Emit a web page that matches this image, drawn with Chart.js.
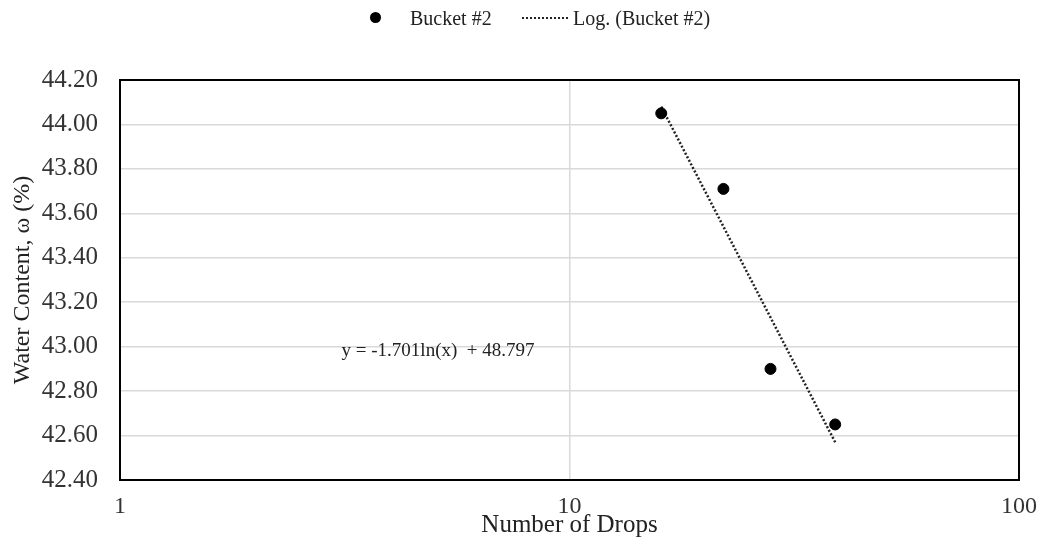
<!DOCTYPE html>
<html>
<head>
<meta charset="utf-8">
<script src="https://cdn.jsdelivr.net/npm/chart.js@4.4.1/dist/chart.umd.min.js"></script>
<style>
    body { margin:0; background:#fff; }
    #wrap { position:relative; width:1042px; height:546px; }
    .leg { position:absolute; top:6px; font-family:"Liberation Serif", serif; font-size:20px; color:#222; line-height:24px; }
    .dot { position:absolute; top:12px; left:370px; width:11px; height:11px; border-radius:50%; background:#000; }
    .dash { position:absolute; top:17px; left:522px; width:46px; border-top:2px dotted #222; }
</style>
</head>
<body>
<div id="wrap">
    <canvas id="grafica" width="1042" height="546"></canvas>
    <span class="dot"></span><span class="leg" style="left:410px">Bucket #2</span>
    <span class="dash"></span><span class="leg" style="left:573px">Log. (Bucket #2)</span>
</div>
<script>
// datos
var gotas = [16, 22, 28, 39];
var humedad = [44.05, 43.71, 42.90, 42.65];
// extremos de la linea de tendencia log
var tendenciaX = [16, 39];
var tendenciaY = [44.08, 42.57];
var ticksX = [1, 10, 100];
var ecuacion = 'y = -1.701ln(x)  + 48.797';
var ecuacionPos = [5.1, 42.98];

var fuente = '"Liberation Serif", "Times New Roman", serif';

var puntos = gotas.map(function (g, i) { return {x: g, y: humedad[i]}; });
var linea = tendenciaX.map(function (g, i) { return {x: g, y: tendenciaY[i]}; });

var marco = {
    id: 'marco',
    afterDraw: function (chart) {
        var ctx = chart.ctx, a = chart.chartArea;
        ctx.save();
        ctx.strokeStyle = '#000';
        ctx.lineWidth = 2;
        ctx.strokeRect(a.left, a.top, a.right - a.left, a.bottom - a.top);
        // texto de la ecuacion
        var sx = chart.scales.x, sy = chart.scales.y;
        ctx.font = '19px ' + fuente;
        ctx.fillStyle = '#222';
        ctx.textAlign = 'center';
        ctx.textBaseline = 'middle';
        ctx.fillText(ecuacion, sx.getPixelForValue(ecuacionPos[0]), sy.getPixelForValue(ecuacionPos[1]));
        ctx.restore();
    }
};

var canvas = document.getElementById('grafica').getContext('2d');
var char = new Chart(canvas, {
    type: 'scatter',
    data: {
        datasets: [{
            label: 'Bucket #2',
            data: puntos,
            backgroundColor: '#000',
            borderColor: '#000',
            pointRadius: 5.5,
            pointHoverRadius: 5.5
        }, {
            label: 'Log. (Bucket #2)',
            data: linea,
            showLine: true,
            borderColor: '#222',
            borderWidth: 2.5,
            borderDash: [2, 2],
            pointRadius: 0,
            fill: false
        }]
    },
    options: {
        responsive: false,
        animation: false,
        devicePixelRatio: 1,
        layout: { padding: { top: 80, right: 23, left: 0, bottom: 0 } },
        plugins: { legend: { display: false }, tooltip: { enabled: false } },
        scales: {
            x: {
                type: 'logarithmic',
                min: 1,
                max: 100,
                afterBuildTicks: function (s) {
                    s.ticks = ticksX.map(function (v) { return {value: v}; });
                },
                afterFit: function (s) {
                    s.height = 66;
                    s.paddingLeft = 0;
                    s.paddingRight = 0;
                },
                border: { display: false },
                grid: { color: '#d9d9d9', lineWidth: 1.5, drawTicks: false },
                ticks: {
                    padding: 12,
                    color: '#333',
                    font: { family: fuente, size: 24 },
                    callback: function (v) { return String(v); }
                },
                title: {
                    display: true,
                    text: 'Number of Drops',
                    color: '#222',
                    font: { family: fuente, size: 25 },
                    padding: { top: 0, bottom: 6 }
                }
            },
            y: {
                min: 42.4,
                max: 44.2,
                afterFit: function (s) { s.width = 120; },
                border: { display: false },
                grid: { color: '#d9d9d9', lineWidth: 1.5, drawTicks: false },
                ticks: {
                    stepSize: 0.2,
                    padding: 22,
                    color: '#333',
                    font: { family: fuente, size: 25 },
                    callback: function (v) { return Number(v).toFixed(2); }
                },
                title: {
                    display: true,
                    text: 'Water Content, ω (%)',
                    color: '#222',
                    font: { family: fuente, size: 24 },
                    padding: { top: 8, bottom: 0 }
                }
            }
        }
    },
    plugins: [marco]
});
</script>
</body>
</html>
